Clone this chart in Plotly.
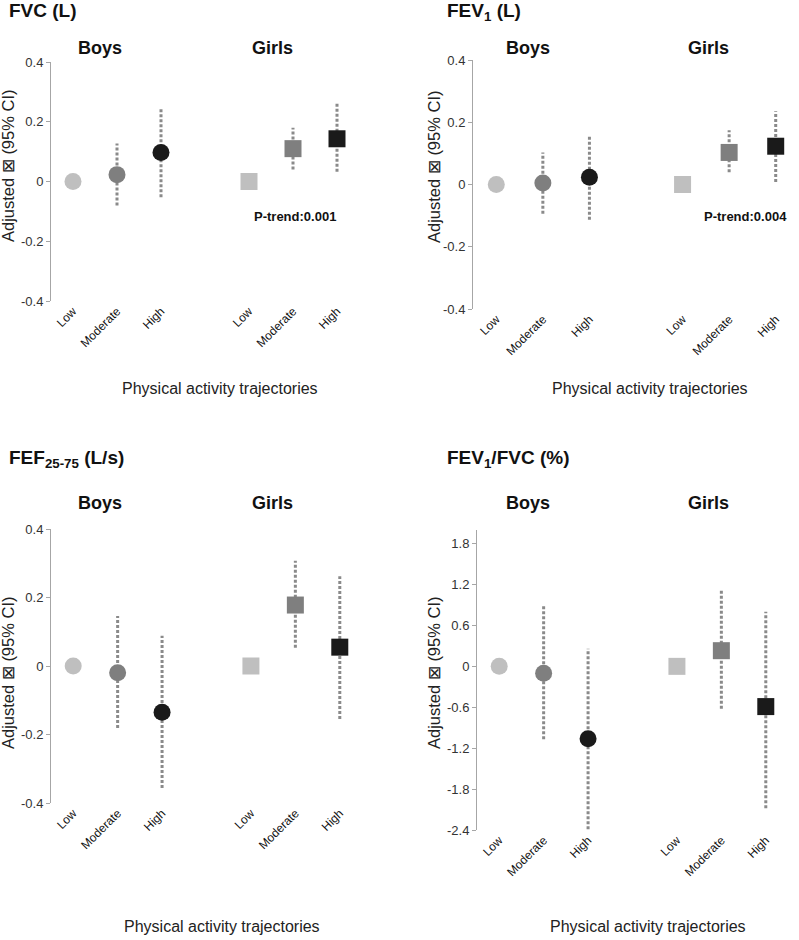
import plotly.graph_objects as go

W, H = 799, 940
FONT = "Liberation Sans, Arial, sans-serif"

# ---- data ----
categories = ["Low", "Moderate", "High", "Low", "Moderate", "High"]
cat_pos = [0, 1, 2, 4, 5, 6]
groups = ["Boys", "Boys", "Boys", "Girls", "Girls", "Girls"]

fvc_est = [0.0, 0.023, 0.097, 0.0, 0.110, 0.143]
fvc_lo = [None, -0.080, -0.053, None, 0.040, 0.033]
fvc_hi = [None, 0.127, 0.243, None, 0.180, 0.263]

fev1_est = [0.0, 0.005, 0.023, 0.0, 0.103, 0.123]
fev1_lo = [None, -0.094, -0.113, None, 0.039, 0.008]
fev1_hi = [None, 0.103, 0.160, None, 0.174, 0.235]

fef_est = [0.0, -0.020, -0.135, 0.0, 0.178, 0.055]
fef_lo = [None, -0.181, -0.356, None, 0.053, -0.155]
fef_hi = [None, 0.146, 0.088, None, 0.307, 0.262]

ratio_est = [0.0, -0.10, -1.06, 0.0, 0.23, -0.59]
ratio_lo = [None, -1.07, -2.39, None, -0.62, -2.08]
ratio_hi = [None, 0.88, 0.26, None, 1.12, 0.80]

titles = ["<b>FVC (L)</b>", "<b>FEV<sub>1</sub> (L)</b>",
          "<b>FEF<sub>25-75</sub> (L/s)</b>", "<b>FEV<sub>1</sub>/FVC (%)</b>"]
p_trend = ["P-trend:0.001", "P-trend:0.004", None, None]

ytick_small = [-0.4, -0.2, 0, 0.2, 0.4]
ytick_small_text = ["-0.4", "-0.2", "0", "0.2", "0.4"]
ytick_ratio = [-2.4, -1.8, -1.2, -0.6, 0, 0.6, 1.2, 1.8]
ytick_ratio_text = ["-2.4", "-1.8", "-1.2", "-0.6", "0", "0.6", "1.2", "1.8"]

marker_colors = ["#bfbfbf", "#7f7f7f", "#1a1a1a", "#bfbfbf", "#7f7f7f", "#1a1a1a"]
marker_symbols = ["circle"] * 3 + ["square"] * 3

# layout geometry (pixel positions in the 799x940 page)
panels = [
    dict(est=fvc_est, lo=fvc_lo, hi=fvc_hi, yr=[-0.4, 0.4], tv=ytick_small, tt=ytick_small_text,
         px=(51, 359), py=(62, 301), title_xy=(7, 11), grp_y=48, grp_x=(100, 272),
         ytitle_xy=(8, 166), xtitle_xy=(220, 388), ptrend_xy=(295, 216)),
    dict(est=fev1_est, lo=fev1_lo, hi=fev1_hi, yr=[-0.4, 0.4], tv=ytick_small, tt=ytick_small_text,
         px=(473, 799), py=(60, 309), title_xy=(445, 12), grp_y=48, grp_x=(528, 708),
         ytitle_xy=(434, 167), xtitle_xy=(650, 388), ptrend_xy=(745, 216)),
    dict(est=fef_est, lo=fef_lo, hi=fef_hi, yr=[-0.4, 0.4], tv=ytick_small, tt=ytick_small_text,
         px=(51, 362), py=(529, 803), title_xy=(7, 459), grp_y=503, grp_x=(100, 272),
         ytitle_xy=(8, 673), xtitle_xy=(222, 926), ptrend_xy=None),
    dict(est=ratio_est, lo=ratio_lo, hi=ratio_hi, yr=[-2.4, 2.0], tv=ytick_ratio, tt=ytick_ratio_text,
         px=(477, 788), py=(530, 830), title_xy=(445, 459), grp_y=503, grp_x=(528, 708),
         ytitle_xy=(434, 673), xtitle_xy=(648, 926), ptrend_xy=None),
]


def fx(px):
    return px / W


def fy(py):
    return 1 - py / H


fig = go.Figure()
layout = dict(template="none", width=W, height=H,
              margin=dict(l=0, r=0, t=0, b=0, autoexpand=False),
              plot_bgcolor="white", paper_bgcolor="white", showlegend=False,
              font=dict(family=FONT, color="#222"))
annotations = []
AX = "#a6a6a6"

for i, p in enumerate(panels):
    n = i + 1
    xa = "x" if n == 1 else f"x{n}"
    ya = "y" if n == 1 else f"y{n}"
    xk = "xaxis" if n == 1 else f"xaxis{n}"
    yk = "yaxis" if n == 1 else f"yaxis{n}"
    xzk = f"xaxis{n + 4}"
    dx = [fx(p["px"][0]), min(1.0, fx(p["px"][1]))]
    dy = [fy(p["py"][1]), fy(p["py"][0])]

    # CI dotted lines built from data
    cx, cy = [], []
    for xv, lo, hi in zip(cat_pos, p["lo"], p["hi"]):
        if lo is None:
            continue
        cx += [xv, xv, None]
        cy += [lo, hi, None]
    fig.add_trace(go.Scatter(x=cx, y=cy, mode="lines", xaxis=xa, yaxis=ya,
                             line=dict(color="#8a8a8a", width=3, dash="3px,2px"),
                             hoverinfo="skip"))
    fig.add_trace(go.Scatter(x=cat_pos, y=p["est"], mode="markers", xaxis=xa, yaxis=ya,
                             marker=dict(size=17, color=marker_colors, symbol=marker_symbols,
                                         line=dict(width=0))))

    layout[xk] = dict(domain=dx, range=[-0.5, 6.5], anchor=ya, showline=False, showgrid=False,
                      zeroline=False, tickmode="array", tickvals=cat_pos, ticktext=categories,
                      tickangle=-45, ticks="", automargin=False,
                      tickfont=dict(size=12, color="#111"))
    layout[yk] = dict(domain=dy, range=p["yr"], anchor=xa, showline=True, linecolor=AX, linewidth=1,
                      showgrid=False, zeroline=False, tickmode="array", tickvals=p["tv"],
                      ticktext=p["tt"], ticks="outside", ticklen=4, tickcolor=AX, automargin=False,
                      tickfont=dict(size=13, color="#333"))
    ymin, ymax = p["yr"]
    pos = dy[0] + (0 - ymin) / (ymax - ymin) * (dy[1] - dy[0])
    layout[xzk] = dict(domain=dx, range=[-0.5, 6.5], overlaying=xa, anchor="free", position=pos,
                       side="bottom", showline=True, linecolor=AX, linewidth=1.5, showgrid=False,
                       zeroline=False, tickmode="array", tickvals=[0.5, 1.5, 2.5, 3.5, 4.5, 5.5, 6.5],
                       ticks="outside", ticklen=4, tickcolor=AX, showticklabels=False,
                       automargin=False)

    # panel title
    annotations.append(dict(text=titles[i], x=fx(p["title_xy"][0]), y=fy(p["title_xy"][1]),
                            xref="paper", yref="paper", xanchor="left", yanchor="middle",
                            showarrow=False, font=dict(size=19, color="#111")))
    # Boys / Girls
    for lab, gx in zip(("Boys", "Girls"), p["grp_x"]):
        annotations.append(dict(text=f"<b>{lab}</b>", x=fx(gx), y=fy(p["grp_y"]),
                                xref="paper", yref="paper", xanchor="center", yanchor="middle",
                                showarrow=False, font=dict(size=18, color="#111")))
    # y-axis title
    annotations.append(dict(text="Adjusted ⊠ (95% CI)", x=fx(p["ytitle_xy"][0]), y=fy(p["ytitle_xy"][1]),
                            xref="paper", yref="paper", xanchor="center", yanchor="middle",
                            textangle=-90, showarrow=False, font=dict(size=16.5, color="#222")))
    # x-axis title
    annotations.append(dict(text="Physical activity trajectories", x=fx(p["xtitle_xy"][0]),
                            y=fy(p["xtitle_xy"][1]),
                            xref="paper", yref="paper", xanchor="center", yanchor="middle",
                            showarrow=False, font=dict(size=16, color="#222")))
    if p_trend[i]:
        annotations.append(dict(text=f"<b>{p_trend[i]}</b>", x=fx(p["ptrend_xy"][0]),
                                y=fy(p["ptrend_xy"][1]),
                                xref="paper", yref="paper", xanchor="center", yanchor="middle",
                                showarrow=False, font=dict(size=13, color="#111")))

layout["annotations"] = annotations
fig.update_layout(**layout)
fig.write_html("out.html", config={"displayModeBar": False},
               post_script="document.body.style.margin='0px';")
